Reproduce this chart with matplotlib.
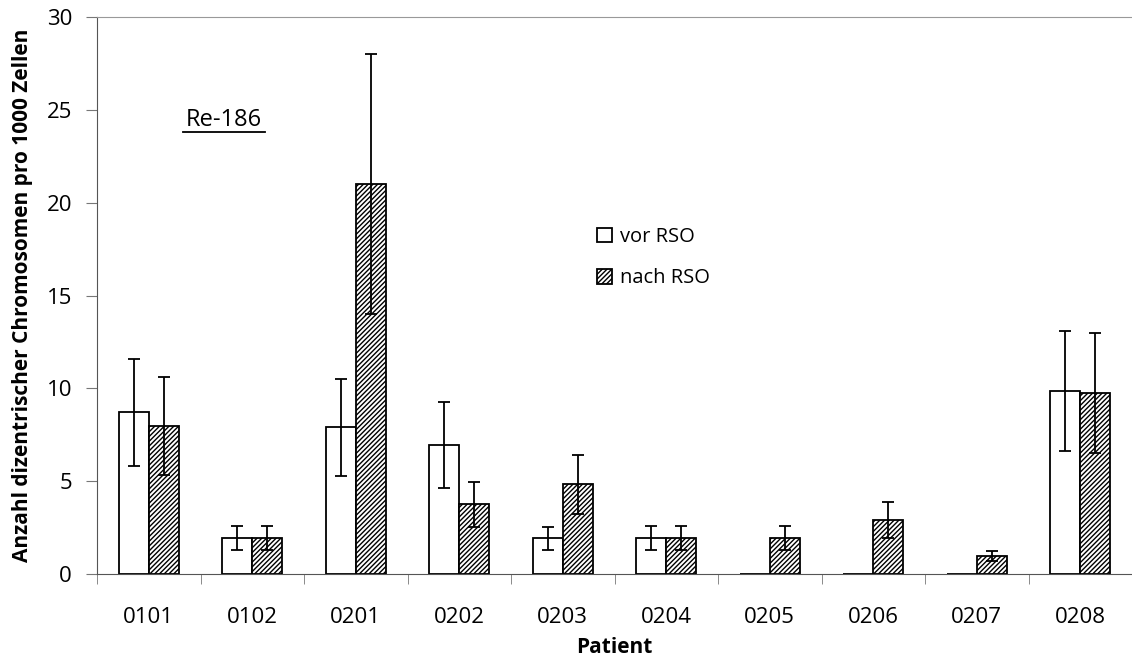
import numpy as np
import matplotlib
matplotlib.use('Agg')
import matplotlib.pyplot as plt

patients = ['0101', '0102', '0201', '0202', '0203', '0204', '0205', '0206', '0207', '0208']
vor_rso = [8.7, 1.95, 7.9, 6.95, 1.92, 1.95, 0.0, 0.0, 0.0, 9.85]
vor_err = [2.9, 0.65, 2.6, 2.3, 0.63, 0.65, 0.0, 0.0, 0.0, 3.25]
nach_rso = [7.97, 1.95, 21.0, 3.75, 4.83, 1.95, 1.93, 2.9, 0.97, 9.75]
nach_err = [2.65, 0.65, 7.0, 1.23, 1.6, 0.65, 0.65, 0.97, 0.27, 3.25]

plt.rcParams['font.family'] = ['Open Sans', 'DejaVu Sans']
plt.rcParams['hatch.linewidth'] = 1.0

W, H = 1132, 657
fig = plt.figure(figsize=(W / 100, H / 100), dpi=100)
ax = fig.add_axes([97 / W, 1 - 574 / H, 1 - 97 / W, (574 - 17) / H])

x = np.arange(len(patients))
bw = 0.29
ax.bar(x - bw / 2, vor_rso, bw, color='white', edgecolor='black', linewidth=1.3,
       label='vor RSO', zorder=2)
ax.bar(x + bw / 2, nach_rso, bw, color='white', edgecolor='black', linewidth=1.3,
       hatch='///////', label='nach RSO', zorder=2)

ev = [v > 0 for v in vor_rso]
ax.errorbar(x[ev] - bw / 2, np.array(vor_rso)[ev], yerr=np.array(vor_err)[ev], fmt='none',
            ecolor='black', elinewidth=1.3, capsize=4, capthick=1.3, zorder=3)
ax.errorbar(x + bw / 2, nach_rso, yerr=nach_err, fmt='none',
            ecolor='black', elinewidth=1.3, capsize=4, capthick=1.3, zorder=3)

ax.set_xlim(-0.5, len(patients) - 0.5)
ax.set_ylim(0, 30)
ax.set_yticks(range(0, 31, 5))
ax.set_xticks(x)
ax.set_xticklabels(patients, fontsize=16)
ax.set_xticks(np.arange(-0.5, len(patients), 1.0), minor=True)
ax.tick_params(axis='x', which='major', length=0, pad=24)
ax.tick_params(axis='x', which='minor', length=7, color='#777777', direction='out')
ax.tick_params(axis='y', labelsize=16, length=8, color='#777777', direction='out', pad=10)

ax.spines['right'].set_visible(False)
ax.spines['top'].set_color('#999999')
ax.spines['bottom'].set_color('#555555')
ax.spines['left'].set_color('#555555')

ax.set_xlabel('Patient', fontsize=15, fontweight='bold', labelpad=6)
ax.set_ylabel('Anzahl dizentrischer Chromosomen pro 1000 Zellen', fontsize=15,
              fontweight='bold', labelpad=10)

# underlined series title
ax.text(0.727, 24.45, 'Re-186', fontsize=17, ha='center', va='center')
ax.plot([0.33, 1.12], [23.83, 23.83], color='black', linewidth=1.3, clip_on=False)

ax.legend(loc='upper left', bbox_to_anchor=(589 / W, 1 - 219 / H), bbox_transform=fig.transFigure,
          frameon=False, fontsize=14.5, handlelength=0.75, handleheight=0.75, handletextpad=0.4,
          labelspacing=1.05, borderaxespad=0)

fig.savefig('out.png', dpi=100)
